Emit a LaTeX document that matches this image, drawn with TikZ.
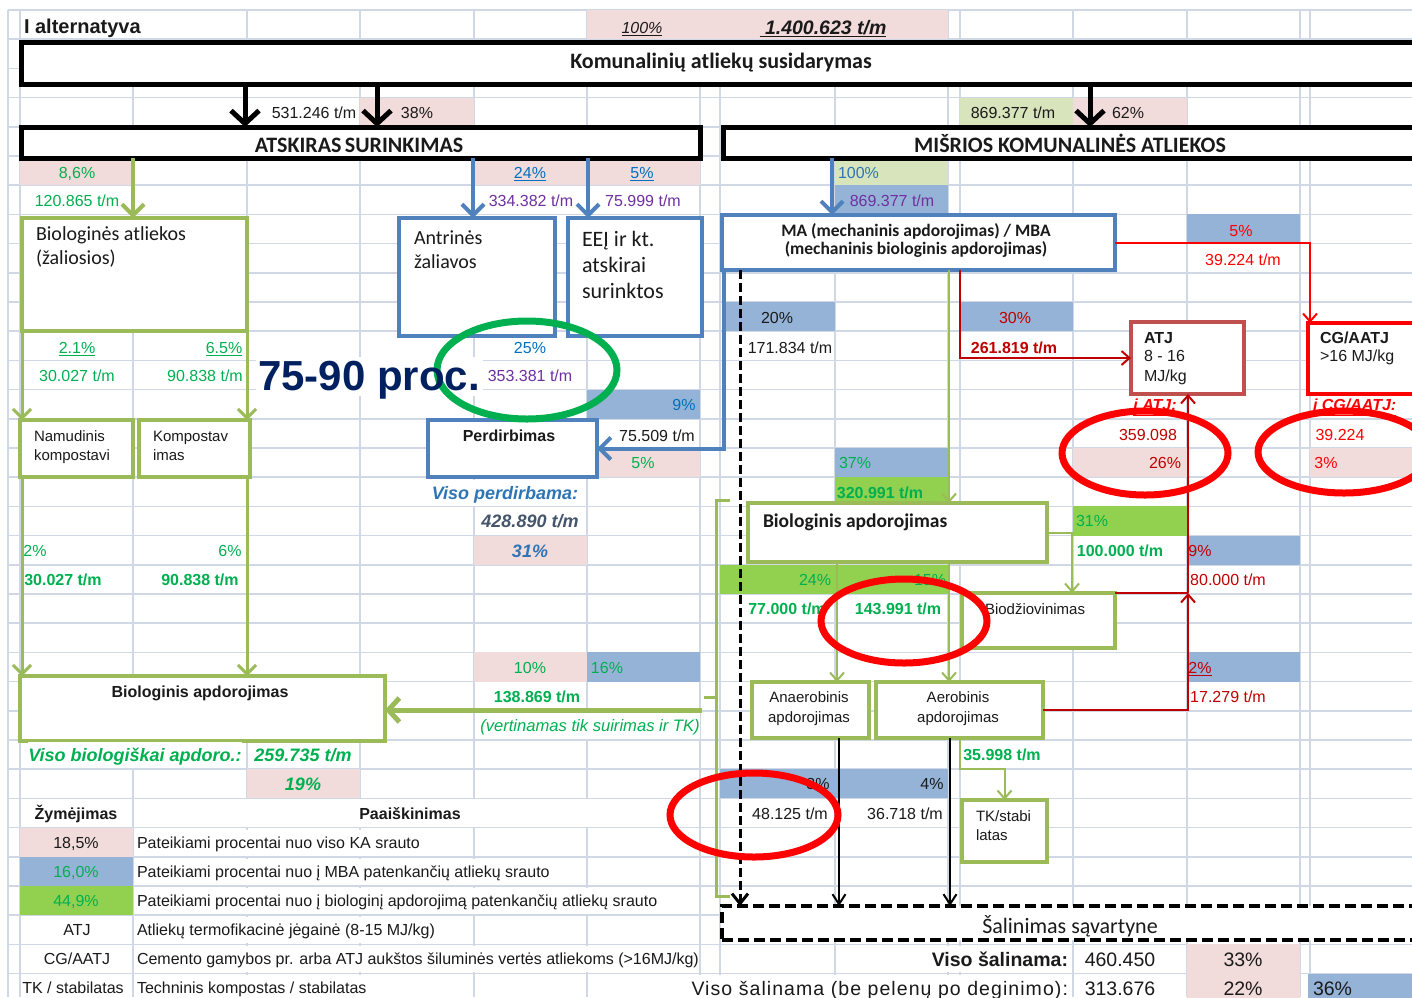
\documentclass[tikz,border=0pt]{standalone}
\usepackage{fontspec}
\setmainfont{Liberation Sans}
\newfontfamily\carl{Carlito}
\newfontfamily\spaced[LetterSpace=5.5]{Liberation Sans}
\usetikzlibrary{arrows.meta}
\definecolor{gridc}{HTML}{D0D8E5}
\definecolor{pinkc}{HTML}{F2DCDB}
\definecolor{lgreenc}{HTML}{D8E4BC}
\definecolor{bluec}{HTML}{95B3D7}
\definecolor{bgreenc}{HTML}{92D050}
\definecolor{gboxc}{HTML}{9BBB59}
\definecolor{bboxc}{HTML}{4F81BD}
\definecolor{tgreen}{HTML}{00B050}
\definecolor{tblue}{HTML}{0070C0}
\definecolor{tpurple}{HTML}{7030A0}
\definecolor{tred}{HTML}{FF0000}
\definecolor{tdred}{HTML}{C00000}
\definecolor{tnavy}{HTML}{002060}
\definecolor{atjc}{HTML}{C0504D}
\definecolor{tdark}{HTML}{1A1A1A}
\definecolor{tslate}{HTML}{44546A}
\definecolor{tvblue}{HTML}{2E75B6}
\definecolor{ringg}{HTML}{00B050}
\newcommand\mkbox[6]{\node[#1,anchor=north west,minimum width={(#4)-(#2)},minimum height={(#5)-(#3)}] (#6) at (#2,#3) {};}
\begin{document}
\begin{tikzpicture}[x=1pt,y=-1pt,
 gridline/.style={draw=gridc,line width=1.6pt},
 lab/.style={inner sep=0pt,outer sep=0pt,text depth=0pt,text=tdark},
 s15/.style={lab,font=\fontsize{15}{17}\selectfont,text height=10.7pt},
 s16/.style={lab,font=\fontsize{16}{18}\selectfont,text height=11.5pt},
 s165/.style={lab,font=\fontsize{16.6}{18}\selectfont,text height=11.9pt},
 s18/.style={lab,font=\fontsize{18}{20}\selectfont,text height=12.9pt},
 s19/.style={lab,font=\fontsize{19.5}{22}\selectfont,text height=14pt},
 s20/.style={lab,font=\fontsize{20}{22}\selectfont,text height=14.3pt},
 s42/.style={lab,font=\fontsize{42}{46}\selectfont,text height=30pt},
 c17/.style={lab,font=\carl\fontsize{17.5}{19}\selectfont,text height=11.3pt},
 c19/.style={lab,font=\carl\fontsize{19.5}{22}\selectfont,text height=12.6pt},
 c20/.style={lab,font=\carl\fontsize{20}{22}\selectfont,text height=12.9pt},
 c22/.style={lab,font=\carl\fontsize{22}{24}\selectfont,text height=14.2pt},
 ovf/.style={fill=white,minimum height=26pt},
 boxbase/.style={fill=white,inner sep=0pt,outer sep=0pt},
 kbox/.style={boxbase,draw=black,line width=5pt},
 gbox/.style={boxbase,draw=gboxc,line width=4pt},
 bbox/.style={boxbase,draw=bboxc,line width=4pt},
 atjbox/.style={boxbase,draw=atjc,line width=4pt},
 cgbox/.style={boxbase,draw=tred,line width=4.5pt},
 salbox/.style={boxbase,draw=black,line width=4pt,dash pattern=on 11pt off 5pt},
 bkarrow/.style={draw=black,line width=5pt,-{Straight Barb[length=13pt,width=28pt]}},
 gthick/.style={draw=gboxc,line width=4pt,-{Straight Barb[length=11pt,width=22pt]}},
 bthick/.style={draw=bboxc,line width=4pt,-{Straight Barb[length=11pt,width=22pt]}},
 gmed/.style={draw=gboxc,line width=3pt,-{Straight Barb[length=9pt,width=18pt]}},
 gwide/.style={draw=gboxc,line width=5pt,-{Straight Barb[length=11pt,width=24pt]}},
 gthin/.style={draw=gboxc,line width=2pt,-{Straight Barb[length=8pt,width=14pt]}},
 gline/.style={draw=gboxc,line width=3pt},
 rarrow/.style={draw=tred,line width=2pt,-{Straight Barb[length=8pt,width=14pt]}},
 drarrow/.style={draw=tdred,line width=2pt,-{Straight Barb[length=8pt,width=14pt]}},
 drline/.style={draw=tdred,line width=2pt},
 bkthin/.style={draw=black,line width=2pt,-{Straight Barb[length=10pt,width=13pt]}},
 dasharrow/.style={draw=black,line width=3pt,dash pattern=on 9pt off 4pt,-{Straight Barb[length=10pt,width=16pt]}},
 ring/.style={draw=tred,line width=7pt},
 gring/.style={draw=ringg,line width=7pt}
]
\useasboundingbox (0,0) rectangle (1412,997);
\fill[white] (0,0) rectangle (1412,997);
% ---------- grid ----------
\foreach \k in {0,...,33} {\draw[gridline] (8,{10+29.2*\k}) -- (1412,{10+29.2*\k});}
\foreach \x in {8,20,133,247,360,474,587,700,720,835,948,960,1073,1187,1300,1310} {\draw[gridline] (\x,10) -- (\x,997);}
% ---------- coloured cells ----------
\fill[pinkc] (587,10) rectangle (948,39.2);
\fill[pinkc] (360,97.6) rectangle (474,126.8);
\fill[pinkc] (1073,97.6) rectangle (1187,126.8);
\fill[lgreenc] (960,97.6) rectangle (1073,126.8);
\fill[pinkc] (20,156) rectangle (133,185.2);
\fill[pinkc] (474,156) rectangle (700,185.2);
\fill[lgreenc] (835,156) rectangle (948,185.2);
\fill[bluec] (835,185.2) rectangle (948,214.4);
\fill[bluec] (1187,214.4) rectangle (1300,243.6);
\fill[bluec] (724,302) rectangle (835,331.2);
\fill[bluec] (960,302) rectangle (1073,331.2);
\fill[bluec] (587,389.6) rectangle (700,418.8);
\fill[pinkc] (587,448) rectangle (700,477.2);
\fill[pinkc] (1073,448) rectangle (1187,477.2);
\fill[pinkc] (1310,448) rectangle (1412,477.2);
\fill[bluec] (835,448) rectangle (948,477.2);
\fill[bgreenc] (835,477.2) rectangle (948,506.4);
\fill[bgreenc] (1073,506.4) rectangle (1187,535.6);
\fill[pinkc] (474,535.6) rectangle (587,564.8);
\fill[bluec] (1187,535.6) rectangle (1300,564.8);
\fill[bgreenc] (720,564.8) rectangle (948,594);
\fill[pinkc] (474,652.4) rectangle (587,681.6);
\fill[bluec] (587,652.4) rectangle (700,681.6);
\fill[bluec] (1187,652.4) rectangle (1300,681.6);
\fill[pinkc] (247,769.2) rectangle (360,798.4);
\fill[bluec] (720,769.2) rectangle (948,798.4);
\fill[pinkc] (20,827.6) rectangle (133,856.8);
\fill[bluec] (20,856.8) rectangle (133,886);
\fill[bgreenc] (20,886) rectangle (133,915.2);
\fill[pinkc] (1187,944.4) rectangle (1300,973.6);
\fill[pinkc] (1187,973.6) rectangle (1300,1002.8);
\fill[bluec] (1308,973.6) rectangle (1412,1002.8);
% overflow backgrounds
\fill[white] (21,11) rectangle (246,38.4);
\fill[white] (134,799.2) rectangle (699,826.8);
\fill[white] (256,357) rectangle (483,396);
% ---------- boxes ----------
\mkbox{kbox}{21}{42}{1430}{84}{kom}
\mkbox{kbox}{21}{127}{700}{158}{atsk}
\mkbox{kbox}{723}{127}{1430}{158}{mis}
\mkbox{gbox}{22}{218}{247}{331}{bio}
\mkbox{bbox}{399}{218}{555}{336}{antr}
\mkbox{bbox}{568}{218}{702}{336}{eej}
\mkbox{bbox}{722}{215}{1115}{270}{ma}
\mkbox{atjbox}{1131}{322}{1244}{394}{atj}
\mkbox{cgbox}{1308}{323}{1430}{394}{cg}
\mkbox{bbox}{428}{420}{597}{477}{perd}
\mkbox{gbox}{20}{420}{133}{477}{nam}
\mkbox{gbox}{139}{420}{250}{477}{komp}
\mkbox{gbox}{20}{676}{385}{741}{bioL}
\mkbox{gbox}{748}{503}{1047}{562}{bioR}
\mkbox{gbox}{962}{593}{1115}{648}{bdz}
\mkbox{gbox}{752}{682}{869}{738}{anr}
\mkbox{gbox}{876}{682}{1043}{738}{aer}
\mkbox{gbox}{962}{800}{1047}{862}{tk}
\mkbox{salbox}{722}{906}{1430}{940}{sal}
% ---------- column coordinates ----------
\foreach \x in {22,133,245,247,377,473,588,724,740,832,837,839,949,950,960,1072,1090,1188} {\coordinate (X\x) at (\x,0);}
% ---------- connectors ----------
\draw[bkarrow] (kom.south -| X245) -- (atsk.north -| X245);
\draw[bkarrow] (kom.south -| X377) -- (atsk.north -| X377);
\draw[bkarrow] (kom.south -| X1090) -- (mis.north -| X1090);
\draw[gthick] (atsk.south -| X133) -- (bio.north -| X133);
\draw[bthick] (atsk.south -| X473) -- (antr.north -| X473);
\draw[bthick] (atsk.south -| X588) -- (eej.north -| X588);
\draw[bthick] (mis.south -| X832) -- (ma.north -| X832);
\draw[gmed] (bio.south -| X22) -- (nam.north -| X22);
\draw[gmed] (bio.south -| X247) -- (komp.north -| X247);
\draw[gmed] (nam.south -| X22) -- (bioL.north -| X22);
\draw[gmed] (komp.south -| X247) -- (bioL.north -| X247);
\draw[bthick] (ma.south -| X724) |- (perd.east);
\draw[dasharrow] (ma.south -| X740) -- (sal.north -| X740);
\draw[rarrow] (ma.east) -| ([xshift=2pt]cg.north west);
\draw[drarrow] (ma.south -| X960) |- (atj.west);
\coordinate (J) at (bdz.north east -| X1188);
\draw[drline] (bdz.north east) -- (J);
\draw[drarrow] (aer.east) -| (J);
\draw[drarrow] (J) -- (atj.south -| J);
\draw[gthin] (ma.south -| X949) -- (bioR.north -| X949);
\draw[gthin] (bioR.east) -| (bdz.north -| X1072);
\draw[gthin] (bioR.south -| X837) -- (anr.north -| X837);
\draw[gthin] (bioR.south -| X949) -- (aer.north -| X949);
\draw[gthin] (aer.south -| X960) -- ++(0,31) -| (tk.north);
\draw[bkthin] (anr.south -| X839) -- (sal.north -| X839);
\draw[bkthin] (aer.south -| X950) -- (sal.north -| X950);
\coordinate (brT) at (730,500);
\coordinate (brB) at (730,896);
\coordinate (brM) at (704,697);
\coordinate (brA) at (702,710);
\draw[gline] (brT) -- (716,500) -- (716,896) -- (brB);
\draw[gline] (716,697) -- (brM);
\draw[gwide] (brA) -- (bioL.east |- brA);
% ---------- green ring + big text ----------
\draw[gring] (527,370) ellipse [x radius=90, y radius=49];
\node[s42,text=tnavy] (bigtxt) at (369,375) {\bfseries 75-90 proc.};
% ---------- texts ----------
\node[s20,anchor=west] (tIalt) at (24,26) {\bfseries I alternatyva};
\node[s16] (t100) at (642,28) {\itshape\underline{100\%}};
\node[s19] (ttot) at (823,27) {\bfseries\itshape\underline{\ 1.400.623 t/m}};
\node[c22] (tkom) at (721,61) {\bfseries Komunalinių atliekų susidarymas};
\node[c22] (tatsk) at (359,145) {\bfseries ATSKIRAS\hspace{0.15em}SURINKIMAS};
\node[c22] (tmis) at (1070,145) {\bfseries MIŠRIOS KOMUNALINĖS ATLIEKOS};
% row 3
\node[s16] (r3a) at (314,113) {531.246 t/m};
\node[s16] (r3b) at (417,113) {38\%};
\node[s16] (r3c) at (1013,113) {869.377 t/m};
\node[s16] (r3d) at (1128,113) {62\%};
% row 5-6
\node[s16,text=tgreen] (r5a) at (77,173) {8,6\%};
\node[s16,text=tblue] (r5b) at (530,173) {\underline{24\%}};
\node[s16,text=tblue] (r5c) at (642,173) {\underline{5\%}};
\node[s16,text=tvblue,anchor=west] (r5d) at (838,173) {100\%};
\node[s16,text=tgreen] (r6a) at (77,201) {120.865 t/m};
\node[s16,text=tpurple] (r6b) at (531,201) {334.382 t/m};
\node[s16,text=tpurple] (r6c) at (643,201) {75.999 t/m};
\node[s16,text=tpurple] (r6d) at (892,201) {869.377 t/m};
% box texts
\node[c20,anchor=west] (tbio1) at (36,234) {Biologinės atliekos};
\node[c20,anchor=west] (tbio2) at (36,258) {(žaliosios)};
\node[c20,anchor=west] (tantr1) at (414,238) {Antrinės};
\node[c20,anchor=west] (tantr2) at (414,262) {žaliavos};
\node[c22,anchor=west] (teej1) at (582,239) {EEĮ ir kt.};
\node[c22,anchor=west] (teej2) at (582,265) {atskirai};
\node[c22,anchor=west] (teej3) at (582,291) {surinktos};
\node[c17] (tma1) at (916,231) {\bfseries MA (mechaninis apdorojimas) / MBA};
\node[c17] (tma2) at (916,249) {\bfseries (mechaninis biologinis apdorojimas)};
\node[s16,anchor=west] (tatj1) at (1144,338) {\bfseries ATJ};
\node[s16,anchor=west] (tatj2) at (1144,356) {8 - 16};
\node[s16,anchor=west] (tatj3) at (1144,376) {MJ/kg};
\node[s16,anchor=west] (tcg1) at (1320,338) {\bfseries CG/AATJ};
\node[s16,anchor=west] (tcg2) at (1320,356) {>16 MJ/kg};
% rows 7-8
\node[s16,text=tred] (r7a) at (1241,231) {5\%};
\node[s16,text=tred] (r8a) at (1243,260) {39.224 t/m};
% row 10-12
\node[s16] (r10a) at (777,318) {20\%};
\node[s16,text=tdred] (r10b) at (1015,318) {30\%};
\node[s16,text=tgreen] (r11a) at (77,348) {\underline{2.1\%}};
\node[s16,text=tgreen] (r11b) at (224,348) {\underline{6.5\%}};
\node[s16,text=tblue] (r11c) at (530,348) {25\%};
\node[s16] (r11d) at (790,348) {171.834 t/m};
\node[s16,text=tdred] (r11e) at (1014,348) {\bfseries 261.819 t/m};
\node[s16,text=tgreen] (r12a) at (77,376) {30.027 t/m};
\node[s16,text=tgreen] (r12b) at (205,376) {90.838 t/m};
\node[s16,text=tpurple] (r12c) at (530,376) {353.381 t/m};
% row 13-15
\node[s16,text=tblue] (r13a) at (684,405) {9\%};
\node[s16,text=tred] (r13b) at (1155,405) {\bfseries\itshape\underline{į ATJ:}};
\node[s16,text=tred,anchor=west] (r13c) at (1313,405) {\bfseries\itshape\underline{į CG/AATJ:}};
\node[s16] (tperd) at (509,436) {\bfseries Perdirbimas};
\node[s16] (r14a) at (657,436) {75.509 t/m};
\node[s16,text=tdred] (r14b) at (1148,435) {359.098};
\node[s16,text=tred] (r14c) at (1340,435) {39.224};
\node[s15,anchor=west] (tnam1) at (34,436) {Namudinis};
\node[s15,anchor=west] (tnam2) at (34,455) {kompostavi};
\node[s15,anchor=west] (tkomp1) at (153,436) {Kompostav};
\node[s15,anchor=west] (tkomp2) at (153,455) {imas};
\node[s16,text=tgreen] (r15a) at (643,463) {5\%};
\node[s16,text=tgreen] (r15b) at (855,463) {37\%};
\node[s16,text=tdred] (r15c) at (1165,463) {26\%};
\node[s16,text=tred] (r15d) at (1326,463) {3\%};
% row 16-20
\node[s18,text=tvblue,ovf] (r16a) at (505,493) {\bfseries\itshape Viso perdirbama:};
\node[s16,text=tgreen] (r16b) at (880,493) {\bfseries 320.991 t/m};
\node[s18,text=tslate] (r17a) at (530,521) {\bfseries\itshape 428.890 t/m};
\node[c19,anchor=west] (tbioR) at (763,521) {\bfseries Biologinis\ apdorojimas};
\node[s16,text=tgreen] (r17b) at (1092,521) {31\%};
\node[s16,text=tgreen] (r18a) at (35,551) {2\%};
\node[s16,text=tgreen] (r18b) at (230,551) {6\%};
\node[s18,text=tvblue] (r18c) at (530,551) {\bfseries\itshape 31\%};
\node[s16,text=tgreen] (r18d) at (1120,551) {\bfseries 100.000 t/m};
\node[s16,text=tdred] (r18e) at (1200,551) {9\%};
\node[s16,text=tgreen] (r19a) at (63,580) {\bfseries 30.027 t/m};
\node[s16,text=tgreen] (r19b) at (200,580) {\bfseries 90.838 t/m};
\node[s16,text=tgreen] (r19c) at (815,580) {24\%};
\node[s16,text=tgreen] (r19d) at (930,580) {15\%};
\node[s16,text=tdred] (r19e) at (1228,580) {80.000 t/m};
\node[s16,text=tgreen] (r20a) at (787,609) {\bfseries 77.000 t/m};
\node[s16,text=tgreen] (r20b) at (898,609) {\bfseries 143.991 t/m};
\node[s15,anchor=west] (tbdz) at (985,609) {Biodžiovinimas};
% row 22-26
\node[s16,text=tgreen] (r22a) at (530,668) {10\%};
\node[s16,text=tgreen] (r22b) at (607,668) {16\%};
\node[s16,text=tdred] (r22c) at (1200,668) {\underline{2\%}};
\node[s16] (tbioL) at (200,692) {\bfseries Biologinis apdorojimas};
\node[s16,text=tgreen] (r23a) at (537,697) {\bfseries 138.869 t/m};
\node[s16,text=tdred] (r23b) at (1228,697) {17.279 t/m};
\node[s15] (tanr1) at (809,697) {Anaerobinis};
\node[s15] (tanr2) at (809,717) {apdorojimas};
\node[s15] (taer1) at (958,697) {Aerobinis};
\node[s15] (taer2) at (958,717) {apdorojimas};
\node[s165,text=tgreen,ovf] (r24a) at (590,726) {\itshape (vertinamas tik suirimas ir TK)};
\node[s18,text=tgreen,ovf] (r25a) at (135,755) {\bfseries\itshape Viso biologiškai apdoro.:};
\node[s18,text=tgreen] (r25b) at (303,755) {\bfseries\itshape 259.735 t/m};
\node[s16,text=tgreen] (r25c) at (1002,755) {\bfseries 35.998 t/m};
\node[s18,text=tgreen] (r26a) at (303,784) {\bfseries\itshape 19\%};
\node[s16] (r26b) at (818,784) {3\%};
\node[s16] (r26c) at (932,784) {4\%};
% row 27 and legend
\node[s16] (lh1) at (76,814) {\bfseries Žymėjimas};
\node[s16] (lh2) at (410,814) {\bfseries Paaiškinimas};
\node[s16] (r27a) at (790,814) {48.125 t/m};
\node[s16] (r27b) at (905,814) {36.718 t/m};
\node[s15,anchor=west] (ttk1) at (976,816) {TK/stabi};
\node[s15,anchor=west] (ttk2) at (976,835) {latas};
\node[s16] (lg1a) at (76,843) {18,5\%};
\node[s16,anchor=west,ovf] (lg1b) at (137,843) {Pateikiami procentai nuo viso KA srauto};
\node[s16,text=tgreen] (lg2a) at (76,872) {16,0\%};
\node[s16,anchor=west,ovf] (lg2b) at (137,872) {Pateikiami procentai nuo į MBA patenkančių atliekų srauto};
\node[s16,text=tgreen] (lg3a) at (76,901) {44,9\%};
\node[s16,anchor=west,ovf] (lg3b) at (137,901) {Pateikiami procentai nuo į biologinį apdorojimą patenkančių atliekų srauto};
\node[s16] (lg4a) at (77,930) {ATJ};
\node[s16,anchor=west,ovf] (lg4b) at (137,930) {Atliekų termofikacinė jėgainė (8-15 MJ/kg)};
\node[s16] (lg5a) at (77,959) {CG/AATJ};
\node[s16,anchor=west,ovf] (lg5b) at (137,959) {Cemento gamybos pr. arba ATJ aukštos šiluminės vertės atliekoms (>16MJ/kg)};
\node[s16] (lg6a) at (73,988) {TK / stabilatas};
\node[s16,anchor=west,ovf] (lg6b) at (137,988) {Techninis kompostas / stabilatas};
% bottom right
\node[c22] (tsal) at (1070,926) {Šalinimas sąvartyne};
\node[s19,anchor=east,ovf] (b1a) at (1068,959) {\bfseries Viso šalinama:};
\node[s19] (b1b) at (1120,959) {460.450};
\node[s19] (b1c) at (1243,959) {33\%};
\node[s19,anchor=east,ovf] (b2a) at (1068,988) {\spaced Viso šalinama (be pelenų po deginimo):};
\node[s19] (b2b) at (1120,988) {313.676};
\node[s19] (b2c) at (1243,988) {22\%};
\node[s19,anchor=west] (b2d) at (1313,988) {36\%};
% ---------- red rings ----------
\draw[ring] (1145,453) ellipse [x radius=83, y radius=42];
\draw[ring] (1344,452) ellipse [x radius=86, y radius=41];
\draw[ring] (904,621) ellipse [x radius=83, y radius=42];
\draw[ring] (754,815) ellipse [x radius=84, y radius=42];
\end{tikzpicture}
\end{document}
